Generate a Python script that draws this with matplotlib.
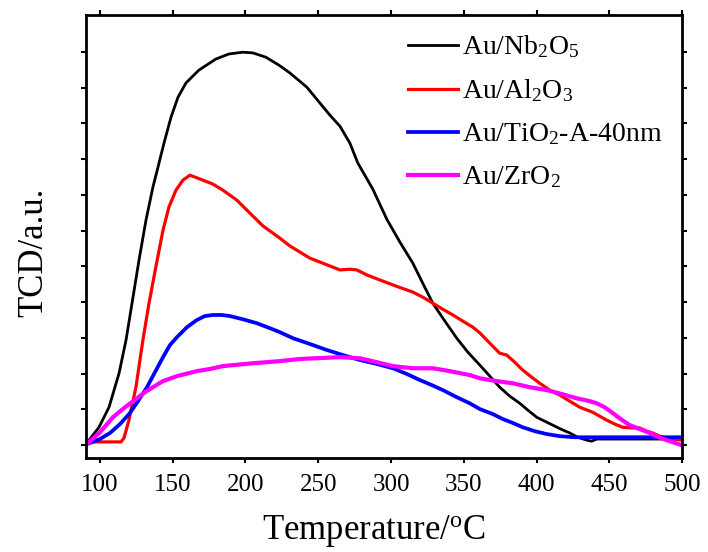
import matplotlib
matplotlib.use('Agg')
import matplotlib.pyplot as plt

plt.rcParams['font.family'] = ['Liberation Serif', 'DejaVu Serif']
plt.rcParams['mathtext.fontset'] = 'custom'
plt.rcParams['mathtext.rm'] = 'Liberation Serif'
plt.rcParams['mathtext.it'] = 'Liberation Serif:italic'

# TPD curves (temperature in oC, TCD signal in a.u.)
nb_T = [91.1, 92.5, 99.3, 106.2, 113.1, 117.9, 122.7, 126.8, 131.6, 136.4, 139.9,
        144.0, 148.8, 153.6, 159.1, 168.0, 179.7, 188.6, 198.2, 205.1, 214.0, 222.9, 230.5,
        242.2, 251.1, 258.0, 264.9, 271.7, 277.2, 287.5, 297.1, 306.1, 315.0, 321.8, 328.7,
        337.0, 345.2, 352.8, 361.0, 367.9, 374.7, 381.6, 388.5, 394.0, 400.1, 405.6, 411.1,
        416.6, 422.8, 428.3, 434.5, 437.9, 441.4, 499.7]
nb_y = [0.11, 0.14, 0.50, 1.06, 2.01, 2.94, 4.14, 5.17, 6.29, 7.22, 7.78,
        8.45, 9.17, 9.73, 10.13, 10.49, 10.80, 10.94, 10.99, 10.97, 10.85, 10.63, 10.41,
        10.01, 9.57, 9.23, 8.92, 8.45, 7.89, 7.16, 6.32, 5.68, 5.09, 4.53, 3.97,
        3.47, 2.99, 2.60, 2.24, 1.93, 1.62, 1.37, 1.17, 0.98, 0.78, 0.67, 0.56,
        0.45, 0.34, 0.22, 0.14, 0.11, 0.17, 0.17]

al_T = [91.1, 114.4, 116.5, 119.9, 124.7, 129.5, 133.7, 138.5, 143.3, 147.4, 152.2, 157.0,
        161.8, 170.8, 177.6, 184.5, 194.1, 203.0, 212.0, 223.6,
        230.5, 237.4, 244.2, 251.1, 258.0, 264.9, 271.7, 276.5, 283.4,
        292.3, 303.3, 315.0, 321.8, 328.7, 335.6, 342.5, 349.3, 356.2, 361.0, 365.8, 374.7,
        379.5, 385.0, 390.5, 396.7, 402.2, 409.1, 416.0, 422.8, 429.7, 438.6, 443.4, 448.2,
        453.7, 459.2, 465.4, 470.9, 475.7, 479.8, 484.6, 489.4, 499.7]
al_y = [0.09, 0.09, 0.20, 0.70, 1.62, 2.94, 3.97, 5.01, 6.01, 6.66, 7.13, 7.41,
        7.55, 7.41, 7.30, 7.13, 6.85, 6.49, 6.13, 5.79,
        5.57, 5.40, 5.23, 5.12, 5.01, 4.90, 4.92, 4.90, 4.76,
        4.62, 4.45, 4.28, 4.14, 3.97, 3.80, 3.64, 3.47, 3.30, 3.14, 2.94, 2.57,
        2.52, 2.32, 2.10, 1.90, 1.73, 1.54, 1.40, 1.23, 1.06, 0.92, 0.81, 0.70,
        0.59, 0.50, 0.48, 0.48, 0.39, 0.34, 0.25, 0.20, 0.14]

ti_T = [91.1, 100.0, 106.9, 113.8, 120.6, 126.1, 132.3, 137.8, 143.3, 148.1, 152.9, 159.8,
        166.6, 172.1, 177.6, 183.8, 189.3, 198.2, 207.8, 216.8, 223.6, 232.6, 244.2, 255.9,
        266.9, 278.6, 290.3, 301.3, 310.9, 319.8, 328.0, 335.6, 345.2, 354.1, 361.0, 369.9,
        376.8, 383.7, 390.5, 398.8, 407.0, 416.0, 426.2, 499.7]
ti_y = [0.03, 0.17, 0.34, 0.59, 0.90, 1.23, 1.62, 2.04, 2.46, 2.80, 3.02, 3.30,
        3.50, 3.61, 3.64, 3.64, 3.61, 3.52, 3.41, 3.27, 3.16, 2.99, 2.83, 2.66,
        2.52, 2.38, 2.27, 2.15, 1.99, 1.82, 1.68, 1.54, 1.34, 1.17, 1.01, 0.87,
        0.73, 0.62, 0.50, 0.39, 0.31, 0.25, 0.22, 0.22]

zr_T = [91.8, 100.0, 108.9, 117.2, 125.4, 130.9, 136.4, 143.3, 152.9, 166.6, 175.6, 184.5,
        205.1, 223.6, 237.4, 264.9, 278.6, 290.3, 301.3, 315.0, 328.7, 340.4, 354.1, 361.0,
        372.6, 383.7, 395.3, 407.0, 417.3, 427.6, 436.5, 441.4, 446.8, 452.3, 457.8, 464.0,
        470.9, 477.8, 484.0, 489.4, 499.7]
zr_y = [0.06, 0.36, 0.78, 1.06, 1.31, 1.48, 1.62, 1.79, 1.93, 2.07, 2.13, 2.21,
        2.29, 2.35, 2.41, 2.46, 2.43, 2.32, 2.21, 2.15, 2.15, 2.07, 1.96, 1.87,
        1.79, 1.73, 1.62, 1.54, 1.43, 1.31, 1.23, 1.17, 1.06, 0.90, 0.73, 0.56,
        0.45, 0.34, 0.22, 0.14, 0.00]

fig = plt.figure(figsize=(7.08, 5.52), dpi=100)
ax = fig.add_axes([0.1215, 0.1703, 0.8418, 0.8025])

ax.plot(nb_T, nb_y, color='black', lw=2.0, label=r'Au/Nb$_2$O$_5$')
ax.plot(al_T, al_y, color='#ff0000', lw=2.3, label=r'Au/Al$_2$O$_3$')
ax.plot(ti_T, ti_y, color='#0000ff', lw=2.7, label=r'Au/TiO$_2$-A-40nm')
ax.plot(zr_T, zr_y, color='#ff00ff', lw=3.0, label=r'Au/ZrO$_2$')

ax.set_xlim(90.4, 500)
ax.set_ylim(-0.36, 12.03)
ax.set_xticks([100, 150, 200, 250, 300, 350, 400, 450, 500])
ax.set_yticks(range(0, 12))
ax.set_yticklabels([])

for s in ax.spines.values():
    s.set_linewidth(2.0)
ax.tick_params(axis='both', which='major', direction='out', length=3.5, width=1.5,
               top=True, right=True, labelsize=18)
ax.tick_params(axis='x', pad=8)

ax.set_xlabel(r'Temperature/$^\mathregular{o}$C', fontsize=25)
ax.xaxis.set_label_coords(0.483, -0.124)
ax.set_ylabel('TCD/a.u.', fontsize=25)
ax.yaxis.set_label_coords(-0.060, 0.465)

ax.legend(loc='upper left', bbox_to_anchor=(0.517, 0.99), frameon=False, fontsize=20,
          borderpad=0, handlelength=1.8, handletextpad=0.15, labelspacing=0.62)

fig.savefig('out.png', dpi=100)
